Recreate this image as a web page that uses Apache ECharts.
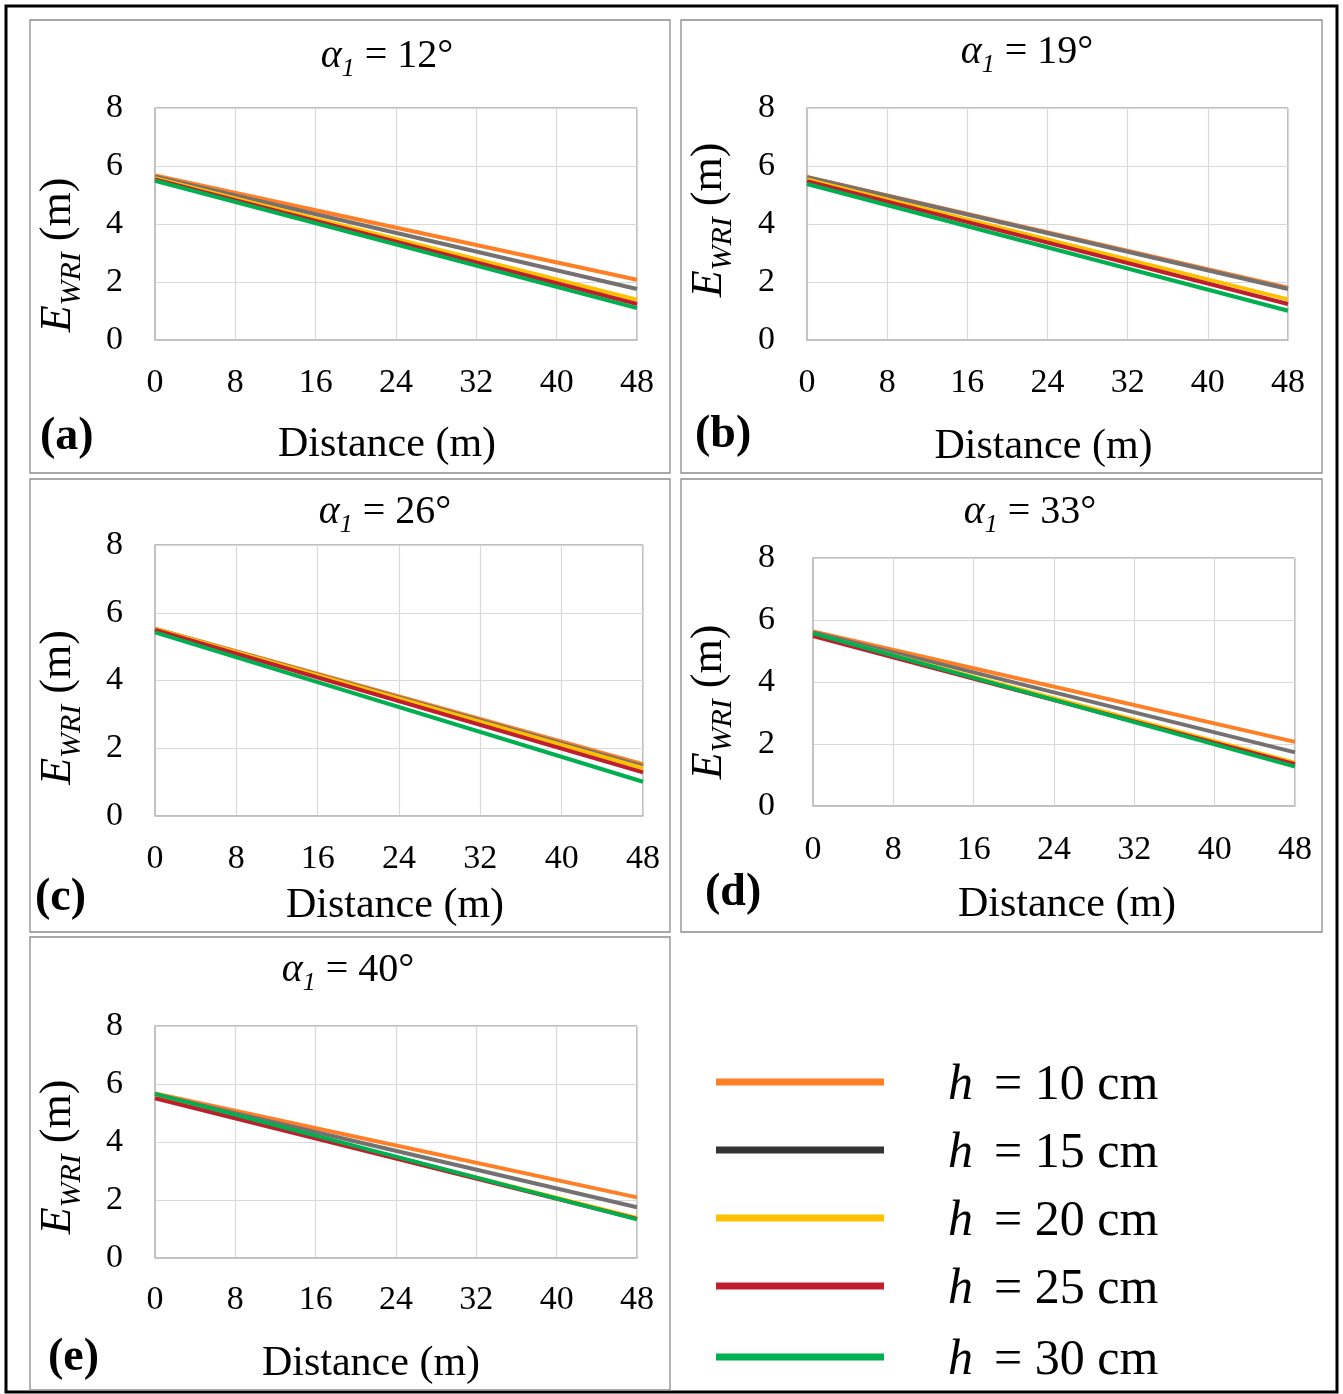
<!DOCTYPE html>
<html><head><meta charset="utf-8">
<script src="https://cdn.jsdelivr.net/npm/echarts@6/dist/echarts.min.js"></script>
<style>html,body{margin:0;padding:0;background:#fff}#c{width:1343px;height:1394px}</style>
</head><body><div id="c"></div>
<script>
// ---- data ----
const distance = [0, 48];
const xTicks = [0, 8, 16, 24, 32, 40, 48];
const yTicks = [0, 2, 4, 6, 8];
const seriesNames = ['h = 10 cm', 'h = 15 cm', 'h = 20 cm', 'h = 25 cm', 'h = 30 cm'];
const angles = ['12°', '19°', '26°', '33°', '40°'];
const panelLabels = ['(a)', '(b)', '(c)', '(d)', '(e)'];
// E_WRI (m) values at distance 0 and 48
const a_h10 = [5.67, 2.08], a_h15 = [5.63, 1.76], a_h20 = [5.58, 1.39], a_h25 = [5.54, 1.24], a_h30 = [5.49, 1.10];
const b_h10 = [5.62, 1.80], b_h15 = [5.61, 1.76], b_h20 = [5.54, 1.40], b_h25 = [5.48, 1.24], b_h30 = [5.38, 1.01];
const c_h10 = [5.53, 1.53], c_h15 = [5.52, 1.47], c_h20 = [5.52, 1.41], c_h25 = [5.49, 1.29], c_h30 = [5.42, 1.01];
const d_h10 = [5.63, 2.07], d_h15 = [5.60, 1.73], d_h20 = [5.55, 1.40], d_h25 = [5.48, 1.35], d_h30 = [5.57, 1.27];
const e_h10 = [5.67, 2.09], e_h15 = [5.64, 1.75], e_h20 = [5.56, 1.38], e_h25 = [5.51, 1.35], e_h30 = [5.66, 1.33];
const panels = [
  [a_h10, a_h15, a_h20, a_h25, a_h30],
  [b_h10, b_h15, b_h20, b_h25, b_h30],
  [c_h10, c_h15, c_h20, c_h25, c_h30],
  [d_h10, d_h15, d_h20, d_h25, d_h30],
  [e_h10, e_h15, e_h20, e_h25, e_h30]
];

// ---- styling / layout ----
const FONT = 'Liberation Serif';
const lineColors = ['#FF7F27', '#767171', '#FFC000', '#BE1E2D', '#00B050'];
const legendColors = ['#FF7F27', '#333333', '#FFC000', '#BE1E2D', '#00B050'];
const grids = [
  {left: 155, top: 108, width: 482, height: 232},
  {left: 807, top: 108, width: 481, height: 232},
  {left: 155, top: 545, width: 488, height: 271},
  {left: 813, top: 558, width: 482, height: 248},
  {left: 155, top: 1026, width: 482, height: 232}
];
const xNameGap = [84, 86, 69, 78, 85];
const xNameShift = [-9, -4, -4, 13, -25];
const yNameGap = [68, 69, 68, 75, 68];
const yNameShift = [31, -4, 27, 20, 15];
const xLabelMargin = [26, 26, 26, 27, 25];
const yLabelMargin = [32, 32, 32, 38, 32];
const titlePos = [[387, 30], [1027, 26], [385, 486], [1030, 486], [348, 944]];
const labelPos = [[40, 414], [695, 412], [35, 875], [705, 870], [48, 1335]];
const panelBoxes = [[30, 20, 640, 453], [681, 20, 641, 453], [30, 479, 640, 453], [681, 479, 641, 453], [30, 937, 640, 453]];
const legendIconY = [1082, 1150, 1218, 1286, 1357];

const subRich = {
  a: {fontFamily: FONT, fontSize: 40, fontStyle: 'italic', fontWeight: 'normal', color: '#000'},
  s: {fontFamily: FONT, fontSize: 26, fontStyle: 'italic', fontWeight: 'normal', color: '#000', padding: [26, 0, 0, 0]},
  t: {fontFamily: FONT, fontSize: 40, fontWeight: 'normal', color: '#000'}
};
const yRich = {
  e: {fontFamily: FONT, fontSize: 44, fontStyle: 'italic', color: '#000'},
  w: {fontFamily: FONT, fontSize: 30, fontStyle: 'italic', color: '#000', padding: [28, 0, 0, 0]},
  n: {fontFamily: FONT, fontSize: 44, color: '#000'}
};

const option = {
  backgroundColor: '#fff',
  animation: false,
  textStyle: {fontFamily: FONT},
  title: [], grid: [], xAxis: [], yAxis: [], series: [], legend: [],
  graphic: []
};

option.graphic.push({type: 'rect', shape: {x: 6, y: 6, width: 1331, height: 1386}, style: {fill: 'none', stroke: '#000', lineWidth: 3}, z: 100});
panelBoxes.forEach(b => option.graphic.push({type: 'rect', shape: {x: b[0], y: b[1], width: b[2], height: b[3]}, style: {fill: 'none', stroke: '#8c8c8c', lineWidth: 1.3}, z: 100}));

panels.forEach((vals, i) => {
  const g = grids[i];
  option.grid.push({left: g.left, top: g.top, width: g.width, height: g.height, show: true, borderColor: '#7f7f7f', borderWidth: 1, backgroundColor: 'transparent', containLabel: false});
  const xs = xNameShift[i];
  option.xAxis.push({
    type: 'value', gridIndex: i, min: xTicks[0], max: xTicks[xTicks.length - 1], interval: xTicks[1] - xTicks[0],
    name: 'Distance (m)', nameLocation: 'middle', nameGap: xNameGap[i],
    nameTextStyle: {fontFamily: FONT, fontSize: 42, color: '#000', padding: xs < 0 ? [0, -2 * xs, 0, 0] : [0, 0, 0, 2 * xs]},
    axisLine: {show: true, lineStyle: {color: '#bfbfbf', width: 1.5}},
    axisTick: {show: false},
    splitLine: {show: true, lineStyle: {color: '#d9d9d9', width: 1.2}},
    axisLabel: {fontFamily: FONT, fontSize: 34, color: '#000', margin: xLabelMargin[i]}
  });
  const sh = yNameShift[i];
  option.yAxis.push({
    type: 'value', gridIndex: i, min: yTicks[0], max: yTicks[yTicks.length - 1], interval: yTicks[1] - yTicks[0],
    name: '{e|E}{w|WRI}{n| (m)}', nameLocation: 'middle', nameGap: yNameGap[i], nameRotate: 90,
    nameTextStyle: {fontFamily: FONT, rich: yRich, padding: sh >= 0 ? [0, 2 * sh, 0, 0] : [0, 0, 0, -2 * sh]},
    axisLine: {show: true, lineStyle: {color: '#bfbfbf', width: 1.5}},
    axisTick: {show: false},
    splitLine: {show: true, lineStyle: {color: '#d9d9d9', width: 1.2}},
    axisLabel: {fontFamily: FONT, fontSize: 34, color: '#000', margin: yLabelMargin[i]}
  });
  option.title.push({
    text: '{a|α}{s|1}{t| = ' + angles[i] + '}',
    left: titlePos[i][0], top: titlePos[i][1], textAlign: 'center', padding: 0,
    textStyle: {fontFamily: FONT, fontWeight: 'normal', rich: subRich}
  });
  option.title.push({
    text: panelLabels[i], left: labelPos[i][0], top: labelPos[i][1], padding: 0,
    textStyle: {fontFamily: FONT, fontSize: 46, fontWeight: 'bold', color: '#000'}
  });
  vals.forEach((v, k) => {
    option.series.push({
      type: 'line', name: seriesNames[k], xAxisIndex: i, yAxisIndex: i,
      data: distance.map((d, j) => [d, v[j]]),
      showSymbol: false, symbol: 'none',
      lineStyle: {color: lineColors[k], width: 4},
      itemStyle: {color: lineColors[k]},
      z: 2 + k, silent: true
    });
  });
});

seriesNames.forEach((n, k) => {
  option.legend.push({
    left: 716, top: legendIconY[k] - 30, padding: 0, orient: 'horizontal', selectedMode: false,
    icon: 'rect', itemWidth: 168, itemHeight: 7,
    data: [{name: n, icon: 'rect', itemStyle: {color: legendColors[k]}}],
    formatter: name => '{s| }{i|h}{g| }{r|' + name.slice(2) + '}',
    textStyle: {
      fontFamily: FONT, fontSize: 48, color: '#000',
      lineHeight: 60,
      rich: {
        s: {width: 59, fontSize: 48, fontFamily: FONT},
        g: {width: 21, fontSize: 48, fontFamily: FONT},
        i: {fontFamily: FONT, fontSize: 50, fontStyle: 'italic', color: '#000', padding: [8, 0, 0, 0]},
        r: {fontFamily: FONT, fontSize: 50, color: '#000', padding: [8, 0, 0, 0]}
      }
    }
  });
});

const chart = echarts.init(document.getElementById('c'), null, {renderer: 'canvas', width: 1343, height: 1394});
chart.setOption(option);
</script>
</body></html>
